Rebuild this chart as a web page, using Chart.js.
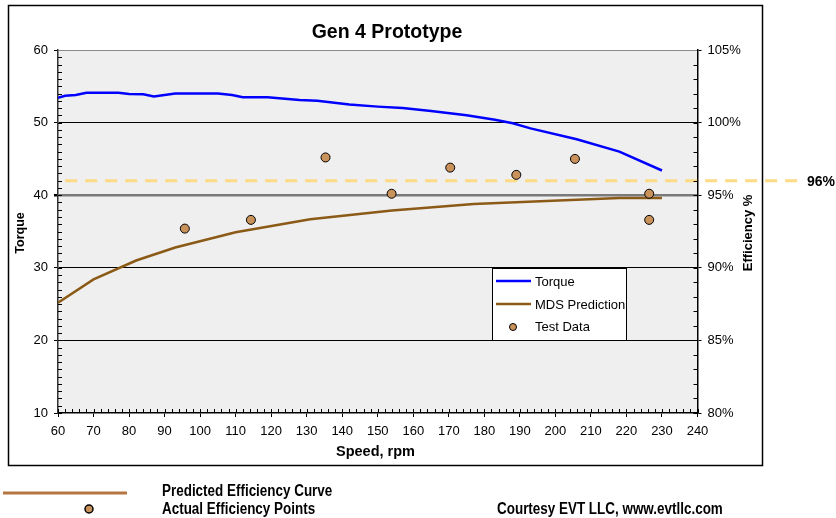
<!DOCTYPE html>
<html>
<head>
<meta charset="utf-8">
<title>Gen 4 Prototype</title>
<script src="https://cdn.jsdelivr.net/npm/chart.js@4.4.1/dist/chart.umd.min.js"></script>
<style>
  html, body { margin: 0; padding: 0; background: #fff; }
  canvas { display: block; }
</style>
</head>
<body>
<canvas id="genChart" width="836" height="518"></canvas>
<script>
  // Axis ticks
  const speedTicks = [60, 70, 80, 90, 100, 110, 120, 130, 140, 150, 160, 170, 180, 190, 200, 210, 220, 230, 240];
  const torqueTicks = [10, 20, 30, 40, 50, 60];
  const effTicks = [80, 85, 90, 95, 100, 105];

  // Torque curve (left axis)
  const torqueRpm = [60, 62, 65, 68, 77, 80, 84, 87, 93, 105, 109, 112, 119, 128, 133, 142, 150, 157, 165, 175, 183, 188, 193, 206, 218, 230];
  const torqueVal = [53.4, 53.7, 53.8, 54.1, 54.1, 53.95, 53.9, 53.6, 54.0, 54.0, 53.8, 53.5, 53.5, 53.1, 53.0, 52.5, 52.2, 52.0, 51.6, 51.0, 50.4, 49.9, 49.2, 47.7, 46.0, 43.4];

  // MDS predicted efficiency (right axis, %)
  const mdsRpm = [60, 70, 82, 93, 110, 131, 154, 177, 218, 230];
  const mdsEff = [87.6, 89.2, 90.5, 91.4, 92.45, 93.35, 93.95, 94.4, 94.8, 94.8];

  // Measured efficiency points (%)
  const testRpm = [95.7, 114.3, 135.3, 153.9, 170.4, 189, 205.5, 226.4, 226.4];
  const testEff = [92.7, 93.3, 97.6, 95.1, 96.9, 96.4, 97.5, 95.1, 93.3];

  // 96% reference line
  const refEff = 96;
  const refRpm = [62, 270];

  const FONT = '"Liberation Sans", Arial, sans-serif';

  const colors = {
    torque: '#0000ff',
    mds: '#8b5a16',
    dot: '#c8925a',
    ref: '#fdda84',
    plotBg: '#efefef',
    legendLine: '#b5773f'
  };

  const zip = (xs, ys) => xs.map((x, i) => ({ x, y: ys[i] }));

  // condensed bold text for the notes under the chart
  function narrowText(ctx, text, x, y) {
    ctx.save();
    ctx.translate(x, y);
    ctx.scale(0.84, 1);
    ctx.fillText(text, 0, 0);
    ctx.restore();
  }

  const chartDecor = {
    id: 'chartDecor',
    beforeDraw(chart) {
      const { ctx, chartArea: a } = chart;
      ctx.save();
      ctx.fillStyle = '#fff';
      ctx.fillRect(0, 0, chart.width, chart.height);
      ctx.fillStyle = colors.plotBg;
      ctx.fillRect(a.left, a.top, a.right - a.left, a.bottom - a.top);
      ctx.restore();
    },
    afterDraw(chart) {
      const { ctx, chartArea: a, scales } = chart;
      ctx.save();

      // minor / inner ticks
      ctx.strokeStyle = '#000';
      ctx.lineWidth = 1;
      ctx.beginPath();
      for (let v = 10; v < 60; v++) {
        const y = Math.round(scales.y.getPixelForValue(v)) + 0.5;
        ctx.moveTo(a.left, y); ctx.lineTo(a.left + 4, y);
      }
      for (let v = 80; v < 105; v++) {
        const y = Math.round(scales.y1.getPixelForValue(v)) + 0.5;
        ctx.moveTo(a.right - 4, y); ctx.lineTo(a.right, y);
      }
      for (let v = 60; v <= 240; v += 2) {
        const x = Math.round(scales.x.getPixelForValue(v)) + 0.5;
        ctx.moveTo(x, a.bottom); ctx.lineTo(x, a.bottom - 4);
      }
      ctx.stroke();

      // outer frame
      ctx.lineWidth = 1.5;
      ctx.strokeRect(8.5, 5.5, 754, 460);

      // title and axis titles
      ctx.fillStyle = '#000';
      ctx.textAlign = 'center';
      ctx.textBaseline = 'middle';
      ctx.font = 'bold 19.5px ' + FONT;
      ctx.fillText('Gen 4 Prototype', 387, 33);
      ctx.font = 'bold 14.5px ' + FONT;
      ctx.fillText('Speed, rpm', 375.5, 452);
      ctx.font = 'bold 12.5px ' + FONT;
      ctx.save();
      ctx.translate(21, 233);
      ctx.rotate(-Math.PI / 2);
      ctx.fillText('Torque', 0, 0);
      ctx.restore();
      ctx.font = 'bold 13px ' + FONT;
      ctx.save();
      ctx.translate(748, 233);
      ctx.rotate(-Math.PI / 2);
      ctx.fillText('Efficiency %', 0, 0);
      ctx.restore();

      // 96% label at the end of the reference line
      ctx.textAlign = 'left';
      ctx.font = 'bold 14px ' + FONT;
      ctx.fillText(refEff + '%', 807, scales.y1.getPixelForValue(refEff) + 1);

      // inner legend
      const lx = 492.5, ly = 268.5, lw = 134, lh = 72;
      ctx.fillStyle = '#fff';
      ctx.fillRect(lx, ly, lw, lh);
      ctx.strokeStyle = '#000';
      ctx.lineWidth = 1;
      ctx.strokeRect(lx, ly, lw, lh);
      ctx.lineWidth = 2.5;
      ctx.strokeStyle = colors.torque;
      ctx.beginPath(); ctx.moveTo(496, 281); ctx.lineTo(531, 281); ctx.stroke();
      ctx.strokeStyle = colors.mds;
      ctx.beginPath(); ctx.moveTo(496, 304); ctx.lineTo(531, 304); ctx.stroke();
      ctx.fillStyle = colors.dot;
      ctx.strokeStyle = '#000';
      ctx.lineWidth = 1;
      ctx.beginPath(); ctx.arc(513, 327, 3.5, 0, Math.PI * 2); ctx.fill(); ctx.stroke();
      ctx.fillStyle = '#000';
      ctx.font = '13px ' + FONT;
      ctx.fillText('Torque', 535, 282);
      ctx.fillText('MDS Prediction', 535, 305);
      ctx.fillText('Test Data', 535, 327);

      // notes under the frame
      ctx.strokeStyle = colors.legendLine;
      ctx.lineWidth = 3;
      ctx.beginPath(); ctx.moveTo(3, 493); ctx.lineTo(127, 493); ctx.stroke();
      ctx.fillStyle = colors.dot;
      ctx.strokeStyle = '#000';
      ctx.lineWidth = 1.5;
      ctx.beginPath(); ctx.arc(89, 509, 4, 0, Math.PI * 2); ctx.fill(); ctx.stroke();
      ctx.fillStyle = '#000';
      ctx.font = 'bold 16px ' + FONT;
      narrowText(ctx, 'Predicted Efficiency Curve', 162, 491.5);
      narrowText(ctx, 'Actual Efficiency Points', 162, 509.5);
      narrowText(ctx, 'Courtesy EVT LLC, www.evtllc.com', 497, 509.5);

      ctx.restore();
    }
  };

  const setTicks = arr => scale => { scale.ticks = arr.map(v => ({ value: v })); };

  new Chart(document.getElementById('genChart'), {
    data: {
      datasets: [
        {
          type: 'line',
          label: '96%',
          data: zip(refRpm, refRpm.map(() => refEff)),
          yAxisID: 'y1',
          borderColor: colors.ref,
          borderWidth: 3,
          borderDash: [12, 8],
          pointRadius: 0,
          clip: false,
          order: 4
        },
        {
          type: 'line',
          label: 'MDS Prediction',
          data: zip(mdsRpm, mdsEff),
          yAxisID: 'y1',
          borderColor: colors.mds,
          borderWidth: 2.5,
          pointRadius: 0,
          tension: 0,
          order: 3
        },
        {
          type: 'line',
          label: 'Torque',
          data: zip(torqueRpm, torqueVal),
          yAxisID: 'y',
          borderColor: colors.torque,
          borderWidth: 2.5,
          pointRadius: 0,
          tension: 0,
          order: 2
        },
        {
          type: 'scatter',
          label: 'Test Data',
          data: zip(testRpm, testEff),
          yAxisID: 'y1',
          backgroundColor: colors.dot,
          borderColor: '#000',
          borderWidth: 1,
          pointRadius: 4.5,
          order: 1
        }
      ]
    },
    options: {
      responsive: false,
      animation: false,
      events: [],
      layout: { padding: { left: 0, top: 50, right: 78.5, bottom: 65 } },
      plugins: {
        legend: { display: false },
        tooltip: { enabled: false }
      },
      scales: {
        x: {
          type: 'linear',
          min: 60,
          max: 240,
          afterBuildTicks: setTicks(speedTicks),
          afterFit: s => { s.height = 40; },
          grid: { drawOnChartArea: false, tickLength: 4, color: '#000' },
          border: { color: '#000', width: 1.5 },
          ticks: { color: '#000', font: { family: FONT, size: 13 }, padding: 7, maxRotation: 0, autoSkip: false }
        },
        y: {
          type: 'linear',
          position: 'left',
          min: 10,
          max: 60,
          afterBuildTicks: setTicks(torqueTicks),
          afterFit: s => { s.width = 58; },
          grid: {
            tickLength: 4,
            tickColor: '#000',
            color: c => c.tick.value === 40 ? '#7a7a7a' : c.tick.value === 60 ? '#8a8a8a' : c.tick.value === 10 ? 'rgba(0,0,0,0)' : '#000',
            lineWidth: c => c.tick.value === 40 ? 2.5 : 1
          },
          border: { color: '#333', width: 1.5 },
          ticks: { color: '#000', font: { family: FONT, size: 13 }, padding: 6 }
        },
        y1: {
          type: 'linear',
          position: 'right',
          min: 80,
          max: 105,
          afterBuildTicks: setTicks(effTicks),
          afterFit: s => { s.width = 60; },
          grid: { drawOnChartArea: false, tickLength: 4, color: '#000' },
          border: { color: '#000', width: 1.5 },
          ticks: { color: '#000', font: { family: FONT, size: 13 }, padding: 6, callback: v => v + '%' }
        }
      }
    },
    plugins: [chartDecor]
  });
</script>
</body>
</html>
